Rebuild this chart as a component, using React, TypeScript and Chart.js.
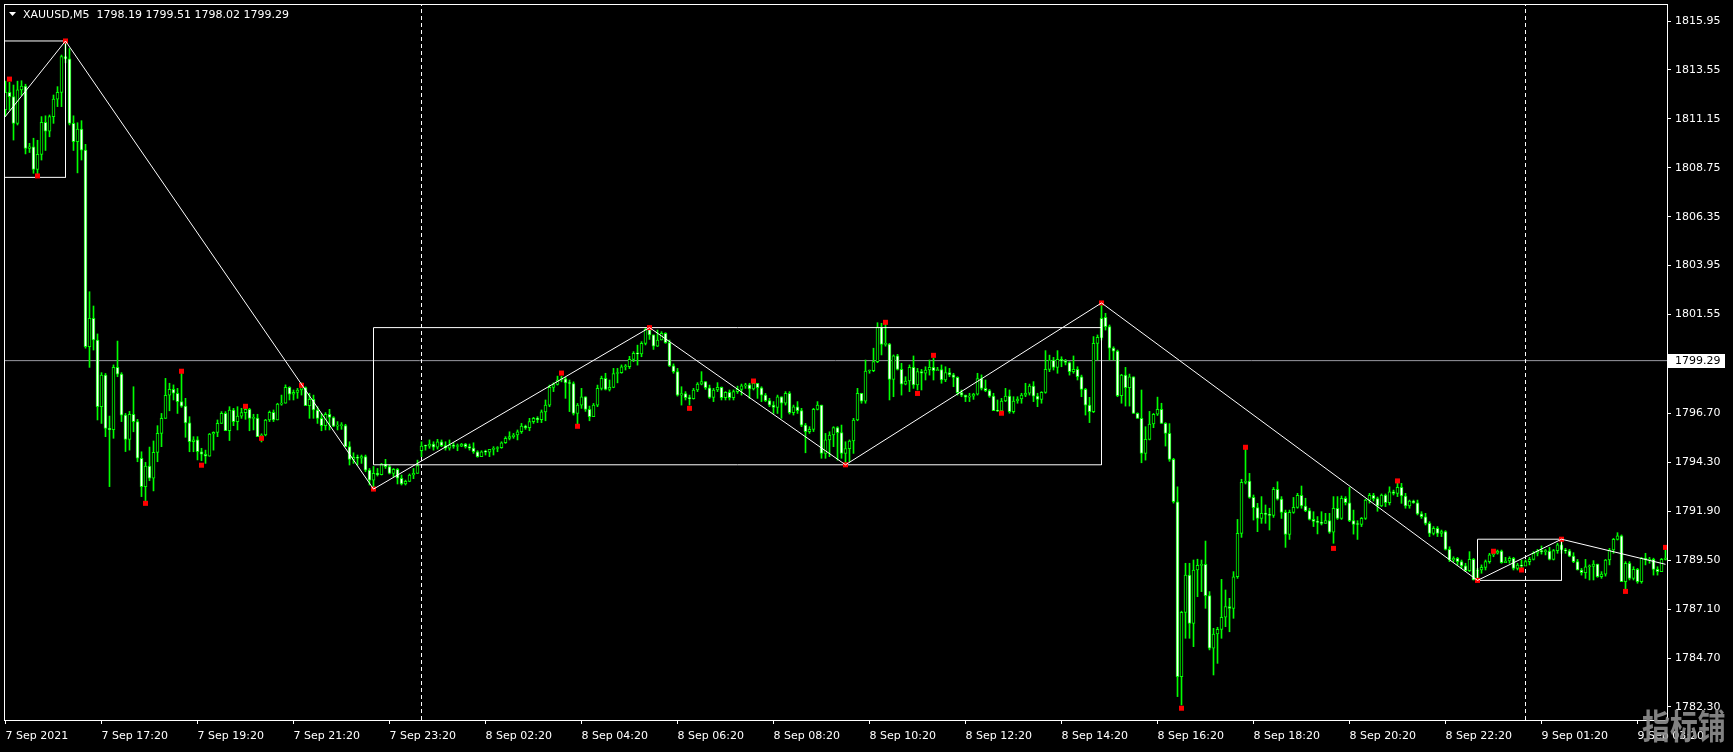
import { useEffect, useRef } from "react";
import { Chart, registerables } from "chart.js";

Chart.register(...registerables);

// ---- data (XAUUSD M5, one entry per bar, bar 0 = 7 Sep 15:20) ----
const OPEN = [
1811.60,1812.45,1812.24,1810.93,1812.57,1812.76,1809.70,1809.78,1808.67,1809.41,1810.98,1810.55,1811.26,1812.12,1812.45,1814.20,1814.10,1810.93,1810.03,1810.65,
1809.62,1799.97,1801.37,1800.30,1797.03,1798.58,1795.97,1795.90,1798.96,1798.63,1796.62,1795.43,1796.66,1796.30,1794.50,1793.11,1794.12,1793.52,1794.79,1795.72,
1796.46,1797.59,1797.88,1797.69,1797.28,1797.06,1796.24,1795.32,1795.40,1794.82,1794.70,1794.60,1795.69,1795.77,1796.21,1796.70,1795.85,1796.87,1796.30,1796.57,
1796.74,1796.90,1796.46,1796.47,1795.56,1795.64,1796.38,1796.75,1796.38,1797.16,1797.20,1797.98,1797.65,1797.73,1797.85,1797.97,1797.08,1797.39,1796.87,1796.46,
1796.10,1796.66,1796.50,1796.08,1796.10,1796.10,1795.07,1794.45,1794.55,1794.50,1794.58,1793.92,1793.43,1793.76,1793.70,1794.22,1794.09,1793.76,1793.96,1793.52,
1793.24,1793.37,1793.68,1793.76,1794.87,1795.10,1795.09,1795.20,1795.04,1795.31,1795.12,1794.99,1795.15,1795.08,1795.10,1795.20,1795.07,1795.00,1794.82,1794.58,
1794.82,1794.80,1794.94,1794.98,1795.02,1795.26,1795.48,1795.56,1795.64,1795.80,1796.08,1796.00,1796.30,1796.46,1796.40,1796.78,1797.11,1797.98,1798.12,1798.34,
1798.40,1798.20,1798.17,1796.70,1797.11,1797.52,1796.90,1796.54,1797.11,1797.93,1798.42,1797.88,1797.98,1798.66,1798.70,1798.99,1799.00,1799.35,1799.65,1799.62,
1800.14,1800.82,1800.55,1800.00,1800.30,1800.63,1800.17,1799.03,1798.75,1797.60,1797.67,1797.47,1797.43,1797.85,1798.14,1798.26,1797.96,1797.49,1797.85,1797.98,
1797.47,1797.73,1797.47,1797.77,1797.88,1798.05,1798.10,1797.90,1798.18,1797.96,1797.60,1797.33,1797.11,1796.99,1797.52,1797.20,1797.69,1796.74,1797.03,1796.84,
1796.13,1795.81,1795.92,1796.90,1797.11,1794.74,1795.40,1795.64,1796.00,1795.76,1794.74,1794.97,1795.35,1796.38,1797.69,1797.30,1798.78,1798.80,1799.24,1800.92,
1800.09,1800.10,1798.37,1799.52,1798.86,1798.13,1798.29,1798.96,1798.10,1798.75,1798.67,1798.83,1798.96,1798.80,1798.85,1798.34,1798.70,1798.59,1798.47,1797.72,
1797.60,1797.50,1797.55,1797.65,1798.41,1797.93,1797.82,1797.55,1796.84,1796.82,1797.31,1797.55,1796.79,1797.31,1797.41,1797.60,1797.69,1798.04,1797.55,1797.39,
1797.73,1798.86,1799.32,1798.96,1799.35,1799.27,1799.20,1798.75,1798.86,1798.50,1797.88,1797.11,1796.79,1800.14,1801.37,1801.42,1800.96,1799.90,1799.76,1797.57,
1798.58,1797.96,1798.50,1796.70,1796.46,1794.74,1795.43,1796.18,1796.66,1796.90,1796.21,1795.72,1794.45,1792.37,1783.79,1786.94,1788.77,1786.40,1789.02,1789.25,
1789.30,1787.76,1785.18,1785.88,1786.11,1786.70,1787.22,1787.14,1788.69,1790.82,1793.32,1793.38,1792.58,1792.08,1791.55,1791.80,1791.75,1791.70,1792.98,1792.50,
1791.85,1790.77,1791.85,1792.09,1792.68,1792.16,1791.93,1791.50,1791.40,1791.36,1791.31,1791.45,1790.87,1792.04,1791.55,1792.53,1792.32,1791.44,1791.26,1791.25,
1791.55,1792.45,1792.68,1792.52,1792.16,1792.70,1792.32,1792.86,1792.78,1793.07,1792.65,1792.16,1792.40,1792.32,1791.77,1791.63,1791.31,1790.82,1791.06,1790.82,
1790.90,1790.03,1789.51,1789.59,1789.43,1789.22,1788.99,1789.54,1788.53,1789.02,1789.15,1789.43,1789.76,1789.84,1789.95,1789.38,1789.46,1789.59,1789.10,1789.26,
1789.21,1789.43,1789.54,1789.84,1789.95,1789.92,1789.95,1789.54,1789.97,1790.25,1790.00,1789.96,1789.70,1789.43,1789.02,1788.89,1789.18,1789.20,1789.31,1788.69,
1788.82,1789.51,1790.00,1790.52,1790.69,1788.45,1789.35,1788.61,1789.05,1788.45,1789.59,1789.51,1789.54,1789.05,1788.94,1789.54,
];
const HIGH = [
1813.00,1812.94,1812.81,1813.00,1813.02,1812.85,1809.95,1810.20,1810.10,1811.26,1811.30,1811.34,1812.32,1812.73,1814.28,1814.97,1814.60,1811.30,1810.96,1811.06,
1809.90,1802.67,1801.97,1800.60,1798.70,1798.66,1796.57,1799.08,1800.25,1798.70,1796.70,1796.80,1798.01,1796.41,1794.82,1794.30,1795.05,1795.35,1796.10,1796.70,
1798.42,1798.18,1798.10,1797.93,1798.66,1797.44,1796.54,1795.56,1795.56,1794.99,1794.90,1795.72,1795.80,1796.38,1796.79,1796.79,1797.03,1796.95,1797.03,1796.95,
1797.10,1796.95,1796.66,1796.66,1795.70,1796.41,1796.82,1796.87,1797.20,1797.60,1798.10,1798.01,1797.85,1797.93,1798.20,1798.00,1797.69,1797.60,1797.03,1796.70,
1796.74,1796.90,1796.54,1796.30,1796.25,1796.17,1795.31,1794.77,1794.66,1794.66,1794.66,1794.00,1794.10,1794.00,1794.25,1794.45,1794.17,1794.00,1794.00,1793.68,
1793.43,1793.73,1794.00,1794.41,1795.31,1795.15,1795.40,1795.31,1795.43,1795.40,1795.31,1795.40,1795.26,1795.20,1795.23,1795.23,1795.20,1795.26,1794.87,1794.87,
1794.90,1794.94,1795.07,1795.07,1795.31,1795.56,1795.80,1795.72,1795.89,1796.21,1796.13,1796.46,1796.51,1796.54,1796.87,1797.36,1798.09,1798.20,1798.53,1798.53,
1798.47,1798.34,1798.25,1797.19,1797.93,1797.52,1797.06,1797.19,1798.09,1798.53,1798.67,1798.34,1798.91,1798.91,1799.08,1799.10,1799.50,1799.73,1800.05,1800.22,
1800.87,1800.91,1800.55,1800.79,1800.71,1800.66,1800.30,1799.13,1798.91,1798.01,1797.77,1797.60,1797.93,1798.21,1798.75,1798.26,1798.09,1797.93,1798.21,1798.00,
1797.77,1797.85,1797.85,1798.04,1798.14,1798.18,1798.18,1798.35,1798.18,1798.01,1797.68,1797.44,1797.28,1797.60,1797.52,1797.77,1797.77,1797.11,1797.28,1796.95,
1796.21,1796.05,1796.95,1797.28,1797.11,1795.72,1795.80,1796.05,1796.05,1796.13,1795.31,1795.40,1796.46,1797.93,1797.69,1799.32,1798.83,1799.90,1801.15,1801.12,
1801.12,1800.14,1799.57,1799.60,1799.16,1798.50,1799.08,1799.52,1798.91,1798.86,1798.99,1799.32,1799.40,1798.96,1799.08,1798.99,1798.91,1798.67,1798.50,1797.85,
1797.60,1797.69,1797.69,1798.67,1798.59,1798.34,1797.88,1797.69,1797.36,1797.44,1797.93,1797.85,1797.52,1797.52,1797.69,1798.18,1798.14,1798.26,1797.69,1797.77,
1799.78,1799.56,1799.45,1799.78,1799.48,1799.35,1799.24,1799.52,1798.99,1798.58,1797.93,1797.49,1800.47,1800.55,1802.12,1801.61,1801.04,1799.97,1799.81,1798.62,
1798.96,1798.63,1798.50,1796.73,1797.85,1796.05,1796.80,1796.70,1797.50,1797.20,1796.25,1796.20,1794.50,1793.10,1787.00,1789.35,1789.35,1789.51,1789.55,1789.51,
1790.44,1787.96,1786.16,1786.21,1788.56,1788.04,1787.63,1788.94,1791.50,1793.47,1794.94,1793.76,1792.70,1792.29,1792.62,1792.21,1792.05,1793.07,1793.35,1792.62,
1791.96,1791.96,1792.58,1792.78,1793.14,1792.54,1792.05,1791.88,1791.64,1791.88,1791.80,1791.80,1792.62,1792.62,1792.65,1792.62,1793.07,1791.96,1791.44,1791.60,
1792.49,1792.78,1792.78,1792.60,1792.75,1792.75,1793.10,1792.94,1793.30,1793.27,1792.78,1792.45,1792.45,1792.45,1791.88,1791.80,1791.39,1791.15,1791.15,1790.98,
1790.95,1790.16,1789.67,1789.64,1789.51,1789.35,1789.92,1789.59,1789.10,1789.27,1789.51,1789.84,1789.94,1790.00,1790.00,1789.64,1789.67,1789.64,1789.35,1789.51,
1789.51,1789.64,1789.92,1790.03,1790.20,1790.03,1790.13,1790.03,1790.33,1790.53,1790.08,1790.03,1789.87,1789.54,1789.10,1789.54,1789.27,1789.48,1789.31,1788.94,
1789.54,1790.08,1790.57,1790.85,1790.74,1789.43,1789.43,1789.18,1789.10,1789.64,1789.84,1789.64,1789.60,1789.18,1789.59,1790.00,
];
const LOW = [
1811.30,1811.58,1810.11,1810.85,1812.30,1809.43,1809.50,1808.48,1808.28,1809.13,1809.60,1810.27,1810.93,1811.75,1811.75,1813.90,1810.85,1809.60,1808.50,1809.13,
1799.90,1798.96,1799.81,1796.38,1796.21,1795.56,1793.11,1795.48,1798.50,1796.30,1794.83,1794.90,1795.80,1794.33,1792.62,1792.42,1793.40,1792.90,1794.33,1795.07,
1796.46,1796.83,1797.36,1796.70,1797.00,1795.53,1794.82,1794.82,1794.42,1794.38,1794.25,1794.60,1794.90,1795.56,1796.21,1795.85,1795.37,1796.10,1795.89,1796.46,
1796.41,1795.85,1795.89,1795.56,1795.30,1795.60,1796.30,1796.30,1796.38,1797.10,1797.20,1797.36,1797.36,1797.44,1797.60,1797.08,1796.46,1796.46,1796.21,1795.85,
1795.89,1795.89,1796.05,1795.89,1795.92,1795.07,1794.17,1794.25,1794.17,1794.25,1793.84,1793.19,1792.99,1793.63,1793.68,1794.00,1793.73,1793.60,1793.24,1793.19,
1793.19,1793.35,1793.50,1793.76,1794.58,1794.90,1794.99,1794.90,1794.95,1795.07,1794.90,1794.90,1794.99,1794.87,1795.07,1795.00,1794.90,1794.74,1794.55,1794.58,
1794.66,1794.58,1794.66,1794.82,1794.99,1795.23,1795.40,1795.48,1795.40,1795.72,1795.92,1795.85,1796.21,1796.25,1796.25,1796.34,1797.03,1797.77,1798.09,1798.25,
1797.44,1796.79,1796.62,1796.18,1796.95,1796.80,1796.34,1796.54,1797.03,1797.85,1797.85,1797.80,1797.96,1798.20,1798.67,1798.83,1798.90,1799.24,1799.07,1799.48,
1800.06,1800.33,1799.84,1799.98,1800.30,1800.14,1799.00,1798.67,1797.55,1797.11,1797.36,1797.11,1797.40,1797.77,1798.10,1797.88,1797.44,1797.28,1797.77,1797.36,
1797.36,1797.36,1797.36,1797.68,1797.60,1797.93,1797.44,1797.85,1797.44,1797.28,1797.28,1797.03,1796.70,1796.70,1796.46,1797.11,1796.67,1796.62,1796.70,1796.05,
1794.77,1795.72,1795.81,1796.87,1794.50,1794.50,1794.58,1795.07,1794.41,1794.50,1794.18,1794.33,1794.74,1796.34,1797.20,1797.20,1798.67,1798.75,1799.19,1799.57,
1800.00,1797.36,1797.52,1798.83,1797.60,1798.10,1797.77,1797.93,1797.85,1797.85,1798.34,1798.58,1798.34,1798.80,1798.18,1798.26,1798.50,1798.01,1797.60,1797.52,
1797.28,1797.28,1797.39,1797.60,1797.85,1797.77,1797.49,1796.84,1796.79,1796.74,1797.28,1796.71,1796.71,1797.20,1797.20,1797.52,1797.60,1797.28,1797.03,1797.20,
1797.69,1798.75,1798.83,1798.67,1798.99,1799.08,1798.58,1798.67,1798.34,1797.52,1796.62,1796.25,1796.74,1799.32,1800.30,1800.79,1799.32,1799.32,1797.52,1797.20,
1797.06,1797.06,1796.70,1796.46,1794.28,1794.41,1795.40,1796.00,1796.60,1796.21,1795.10,1794.35,1792.30,1782.81,1782.40,1785.67,1785.67,1785.26,1787.71,1787.96,
1787.14,1785.10,1783.87,1784.44,1785.67,1786.24,1785.99,1786.65,1788.61,1790.62,1793.24,1792.54,1791.47,1790.90,1791.31,1791.31,1790.98,1791.60,1792.45,1791.55,
1790.13,1790.52,1791.80,1792.05,1792.05,1791.88,1791.47,1791.15,1790.79,1791.23,1791.31,1790.82,1790.33,1791.50,1791.50,1792.21,1791.39,1790.78,1790.52,1791.15,
1791.50,1792.30,1792.40,1791.90,1792.13,1792.13,1792.21,1792.70,1792.62,1792.29,1792.05,1792.05,1792.29,1791.72,1791.55,1791.23,1790.66,1790.74,1790.66,1790.66,
1790.00,1789.43,1789.43,1789.27,1789.10,1788.94,1788.94,1788.53,1788.51,1788.86,1789.02,1789.35,1789.67,1789.80,1789.35,1789.38,1789.35,1789.02,1789.02,1789.05,
1789.27,1789.27,1789.51,1789.71,1789.80,1789.76,1789.51,1789.51,1789.84,1789.84,1789.84,1789.67,1789.38,1789.02,1788.77,1788.61,1788.53,1788.53,1788.66,1788.61,
1788.72,1789.27,1789.84,1790.49,1788.45,1788.07,1788.53,1788.53,1788.37,1788.37,1789.27,1789.35,1788.77,1788.77,1788.94,1789.51,
];
const CLOSE = [
1812.45,1812.24,1810.93,1812.57,1812.76,1809.70,1809.78,1808.67,1809.41,1810.98,1810.55,1811.26,1812.12,1812.45,1814.20,1814.10,1810.93,1810.03,1810.65,1809.62,
1799.97,1801.37,1800.30,1797.03,1798.58,1795.97,1795.90,1798.96,1798.63,1796.62,1795.43,1796.66,1796.30,1794.50,1793.11,1794.12,1793.52,1794.79,1795.72,1796.46,
1797.59,1797.88,1797.69,1797.28,1797.06,1796.24,1795.32,1795.40,1794.82,1794.70,1794.60,1795.69,1795.77,1796.21,1796.70,1795.85,1796.87,1796.30,1796.57,1796.74,
1796.90,1796.46,1796.47,1795.56,1795.64,1796.38,1796.75,1796.38,1797.16,1797.20,1797.98,1797.65,1797.73,1797.85,1797.97,1797.08,1797.39,1796.87,1796.46,1796.10,
1796.66,1796.50,1796.08,1796.10,1796.10,1795.07,1794.45,1794.55,1794.50,1794.58,1793.92,1793.43,1793.76,1793.70,1794.22,1794.09,1793.76,1793.96,1793.52,1793.24,
1793.37,1793.68,1793.76,1794.14,1795.10,1795.09,1795.20,1795.04,1795.31,1795.12,1794.99,1795.15,1795.08,1795.10,1795.20,1795.07,1795.00,1794.82,1794.58,1794.82,
1794.80,1794.94,1794.98,1795.02,1795.26,1795.48,1795.56,1795.64,1795.80,1796.08,1796.00,1796.30,1796.46,1796.40,1796.78,1797.11,1797.98,1798.12,1798.34,1798.40,
1798.20,1798.17,1796.70,1797.11,1797.52,1796.90,1796.54,1797.11,1797.93,1798.42,1797.88,1797.98,1798.66,1798.70,1798.99,1799.00,1799.35,1799.65,1799.62,1800.14,
1800.82,1800.55,1800.00,1800.30,1800.63,1800.17,1799.03,1798.75,1797.60,1797.67,1797.47,1797.43,1797.85,1798.14,1798.26,1797.96,1797.49,1797.85,1797.98,1797.47,
1797.73,1797.47,1797.77,1797.88,1798.05,1798.10,1797.90,1798.18,1797.96,1797.60,1797.33,1797.11,1796.99,1797.52,1797.20,1797.69,1796.74,1797.03,1796.84,1796.13,
1795.81,1795.92,1796.90,1797.11,1794.74,1795.40,1795.64,1796.00,1795.76,1794.74,1794.97,1795.35,1796.38,1797.69,1797.30,1798.78,1798.80,1799.24,1800.92,1800.09,
1800.10,1798.37,1799.52,1798.86,1798.13,1798.29,1798.96,1798.10,1798.75,1798.67,1798.83,1798.96,1798.80,1798.85,1798.34,1798.70,1798.59,1798.47,1797.72,1797.60,
1797.50,1797.55,1797.65,1798.41,1797.93,1797.82,1797.55,1796.84,1796.82,1797.31,1797.55,1796.79,1797.31,1797.41,1797.60,1797.69,1798.04,1797.55,1797.39,1797.73,
1798.86,1799.32,1798.96,1799.35,1799.27,1799.20,1798.75,1798.86,1798.50,1797.88,1797.11,1796.79,1800.14,1800.43,1800.40,1800.95,1799.90,1799.76,1797.57,1798.58,
1797.96,1798.50,1796.70,1796.46,1794.74,1795.43,1796.18,1796.66,1796.90,1796.21,1795.72,1794.45,1792.37,1783.79,1786.94,1788.77,1786.40,1789.02,1789.25,1789.30,
1787.76,1785.18,1785.88,1786.11,1786.70,1787.22,1787.14,1788.69,1790.82,1793.32,1793.38,1792.58,1792.08,1791.55,1791.80,1791.75,1791.70,1792.98,1792.50,1791.85,
1790.77,1791.85,1792.09,1792.68,1792.16,1791.93,1791.50,1791.40,1791.36,1791.31,1791.45,1790.87,1792.04,1791.55,1792.53,1792.32,1791.44,1791.26,1791.25,1791.55,
1792.45,1792.68,1792.52,1792.16,1792.70,1792.32,1792.86,1792.78,1793.07,1792.65,1792.16,1792.40,1792.32,1791.77,1791.63,1791.31,1790.82,1791.06,1790.82,1790.90,
1790.03,1789.51,1789.59,1789.43,1789.22,1788.99,1789.54,1788.53,1789.02,1789.15,1789.43,1789.76,1789.84,1789.95,1789.38,1789.46,1789.59,1789.10,1789.26,1789.21,
1789.43,1789.54,1789.84,1789.95,1789.92,1789.95,1789.54,1789.97,1790.25,1790.00,1789.96,1789.70,1789.43,1789.02,1788.89,1789.18,1789.20,1789.31,1788.69,1788.82,
1789.51,1790.00,1790.52,1790.69,1788.45,1789.35,1788.61,1789.05,1788.45,1789.59,1789.51,1789.54,1789.05,1788.94,1789.54,1789.60,
];

const TIME_TICK_BARS = [0, 24, 48, 72, 96, 120, 144, 168, 192, 216, 240, 264, 288, 312, 336, 360, 384, 408];
const TIME_TICK_LABELS = [
  "7 Sep 2021", "7 Sep 17:20", "7 Sep 19:20", "7 Sep 21:20", "7 Sep 23:20", "8 Sep 02:20",
  "8 Sep 04:20", "8 Sep 06:20", "8 Sep 08:20", "8 Sep 10:20", "8 Sep 12:20", "8 Sep 14:20",
  "8 Sep 16:20", "8 Sep 18:20", "8 Sep 20:20", "8 Sep 22:20", "9 Sep 01:20", "9 Sep 03:20",
];
const PRICE_TICKS = [1815.95, 1813.55, 1811.15, 1808.75, 1806.35, 1803.95, 1801.55, 1796.70, 1794.30, 1791.90, 1789.50, 1787.10, 1784.70, 1782.30];

const ZIGZAG_BARS = [-6, 15, 92, 161, 210, 274, 368, 389, 415];
const ZIGZAG_PRICES = [1809.8, 1814.97, 1792.99, 1800.91, 1794.18, 1802.12, 1788.51, 1790.53, 1789.3];

const FRACTAL_BARS = [1, 8, 15, 35, 44, 49, 60, 64, 74, 92, 139, 143, 161, 171, 187, 210, 220, 228, 232, 249, 274, 294, 310, 332, 348, 368, 372, 379, 389, 405, 415];
const FRACTAL_PRICES = [1813.10, 1808.35, 1814.97, 1792.29, 1798.77, 1794.16, 1797.05, 1795.48, 1798.08, 1792.99, 1798.68, 1796.07, 1800.91, 1796.95, 1798.29, 1794.18, 1801.17, 1797.68, 1799.55, 1796.71, 1802.12, 1782.24, 1795.04, 1790.08, 1793.39, 1788.51, 1789.94, 1789.02, 1790.53, 1787.97, 1790.13];

const BOX_START_BARS = [-6, 92, 368];
const BOX_END_BARS = [15, 274, 389];
const BOX_LOW_PRICES = [1808.28, 1794.18, 1788.51];
const BOX_HIGH_PRICES = [1814.97, 1800.91, 1790.53];

const DAY_SEPARATOR_BARS = [104, 380];
const BID_PRICE = 1799.29;
const SYMBOL = "XAUUSD,M5";
const LAST_BAR_OHLC = [1798.19, 1799.51, 1798.02, 1799.29];
const WATERMARK = "指标铺";

// view window (bar index / price) of the chart
const X_MIN = -0.375;
const X_MAX = 415.375;
const Y_MIN = 1781.662;
const Y_MAX = 1816.784;

const FONT = "DejaVu Sans";
const LIME = "#00ff00";

const overlay = {
  id: "mt4overlay",
  afterDraw(chart: any) {
    const { ctx, chartArea: a } = chart;
    ctx.save();
    // frame
    ctx.strokeStyle = "#ffffff";
    ctx.lineWidth = 1;
    ctx.strokeRect(Math.round(a.left) + 0.5, Math.round(a.top) + 0.5, Math.round(a.right - a.left), Math.round(a.bottom - a.top));
    // header
    ctx.fillStyle = "#ffffff";
    ctx.beginPath();
    ctx.moveTo(9, 12);
    ctx.lineTo(16, 12);
    ctx.lineTo(12.5, 16);
    ctx.closePath();
    ctx.fill();
    ctx.font = `11px '${FONT}'`;
    ctx.textBaseline = "middle";
    ctx.textAlign = "left";
    ctx.fillText(`${SYMBOL}  ${LAST_BAR_OHLC.map((v) => v.toFixed(2)).join(" ")}`, 23, 15);
    // bid price label
    const y = Math.round(chart.scales.y.getPixelForValue(BID_PRICE));
    ctx.fillStyle = "#ffffff";
    ctx.fillRect(Math.round(a.right) + 1, y - 7, 57, 14);
    ctx.fillStyle = "#000000";
    ctx.fillText(BID_PRICE.toFixed(2), Math.round(a.right) + 8, y + 0.5);
    // watermark
    ctx.save();
    ctx.translate(1642, 726);
    ctx.scale(0.82, 1);
    ctx.font = `bold 34px 'Noto Sans CJK SC'`;
    ctx.fillStyle = "rgba(140,140,140,0.92)";
    ctx.fillText(WATERMARK, 0, 0);
    ctx.restore();
    ctx.restore();
  },
};

export default function App() {
  const ref = useRef<HTMLCanvasElement>(null);

  useEffect(() => {
    const canvas = ref.current;
    if (!canvas) return;
    const idx = CLOSE.map((_, i) => i);
    const bodies = idx.map((i) => ({ x: i, y: [OPEN[i], CLOSE[i]] }));
    const wicks = idx.map((i) => ({ x: i, y: [LOW[i], HIGH[i]] }));
    const bodyFill = idx.map((i) => (CLOSE[i] < OPEN[i] ? "#ffffff" : "#000000"));

    const lineDs = (data: any[], color: string, order: number, extra: any = {}) => ({
      type: "line",
      data,
      borderColor: color,
      borderWidth: 1,
      pointRadius: 0,
      tension: 0,
      fill: false,
      order,
      ...extra,
    });

    const boxes = BOX_START_BARS.map((x0, k) => {
      const x1 = BOX_END_BARS[k];
      const lo = BOX_LOW_PRICES[k];
      const hi = BOX_HIGH_PRICES[k];
      return lineDs(
        [
          { x: x0, y: hi },
          { x: x1, y: hi },
          { x: x1, y: lo },
          { x: x0, y: lo },
          { x: x0, y: hi },
        ],
        "#ffffff",
        2
      );
    });

    const separators = DAY_SEPARATOR_BARS.map((b) =>
      lineDs(
        [
          { x: b, y: Y_MIN },
          { x: b, y: Y_MAX },
        ],
        "#ffffff",
        5,
        { borderDash: [4, 3] }
      )
    );

    const chart = new Chart(canvas, {
      type: "bar",
      data: {
        datasets: [
          lineDs(
            ZIGZAG_BARS.map((b, k) => ({ x: b, y: ZIGZAG_PRICES[k] })),
            "#ffffff",
            0
          ),
          {
            type: "line",
            data: FRACTAL_BARS.map((b, k) => ({ x: b, y: FRACTAL_PRICES[k] })),
            showLine: false,
            pointStyle: "rect",
            pointRadius: 3.54,
            pointBackgroundColor: "#ff0000",
            pointBorderColor: "#ff0000",
            pointBorderWidth: 0,
            order: 1,
          },
          ...boxes,
          {
            type: "bar",
            data: bodies,
            backgroundColor: bodyFill,
            borderColor: LIME,
            borderWidth: 1,
            borderSkipped: false,
            barThickness: 3,
            grouped: false,
            minBarLength: 1,
            order: 3,
          },
          {
            type: "bar",
            data: wicks,
            backgroundColor: LIME,
            borderWidth: 0,
            barThickness: 1,
            grouped: false,
            minBarLength: 1,
            order: 4,
          },
          ...separators,
          lineDs(
            [
              { x: X_MIN, y: BID_PRICE },
              { x: X_MAX, y: BID_PRICE },
            ],
            "#9a9aa2",
            6
          ),
        ] as any,
      },
      options: {
        animation: false,
        responsive: false,
        devicePixelRatio: 1,
        events: [],
        layout: { padding: { left: 4, top: 4, right: 0, bottom: 0 } },
        plugins: { legend: { display: false }, tooltip: { enabled: false } },
        scales: {
          x: {
            type: "linear",
            min: X_MIN,
            max: X_MAX,
            offset: false,
            afterBuildTicks: (s: any) => {
              s.ticks = TIME_TICK_BARS.map((v) => ({ value: v }));
            },
            afterFit: (s: any) => {
              s.height = 32;
              s.paddingLeft = 0;
              s.paddingRight = 0;
            },
            grid: { display: true, drawOnChartArea: false, drawTicks: true, tickLength: 4, color: "#ffffff", offset: false },
            border: { display: false },
            ticks: {
              autoSkip: false,
              maxRotation: 0,
              minRotation: 0,
              align: "start",
              padding: 6,
              color: "#ffffff",
              font: { family: FONT, size: 11 },
              callback: (v: any) => {
                const k = TIME_TICK_BARS.indexOf(Number(v));
                return k >= 0 ? TIME_TICK_LABELS[k] : "";
              },
            },
          },
          y: {
            type: "linear",
            position: "right",
            min: Y_MIN,
            max: Y_MAX,
            beginAtZero: false,
            afterBuildTicks: (s: any) => {
              s.ticks = PRICE_TICKS.map((v) => ({ value: v }));
            },
            afterFit: (s: any) => {
              s.width = 66;
              s.paddingTop = 0;
              s.paddingBottom = 0;
            },
            grid: { display: true, drawOnChartArea: false, drawTicks: true, tickLength: 4, color: "#ffffff" },
            border: { display: false },
            ticks: {
              autoSkip: false,
              padding: 4,
              color: "#ffffff",
              font: { family: FONT, size: 11 },
              callback: (v: any) => Number(v).toFixed(2),
            },
          },
        },
      } as any,
      plugins: [overlay],
    });
    return () => chart.destroy();
  }, []);

  return (
    <div style={{ position: "fixed", left: 0, top: 0, width: 1733, height: 752, background: "#000000", overflow: "hidden" }}>
      <canvas ref={ref} width={1733} height={752} style={{ display: "block", width: 1733, height: 752 }} />
    </div>
  );
}
